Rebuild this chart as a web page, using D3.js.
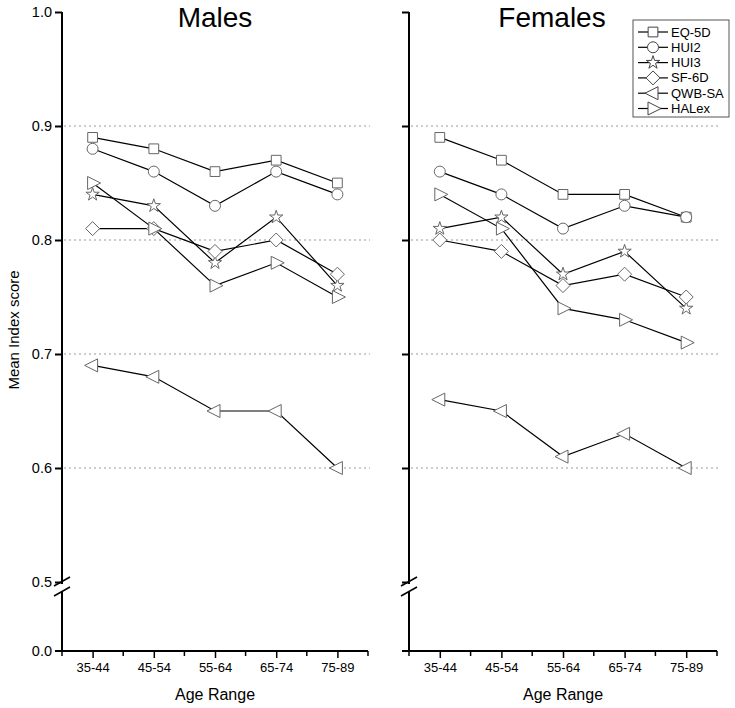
<!DOCTYPE html>
<html><head><meta charset="utf-8">
<script src="https://cdn.jsdelivr.net/npm/d3@7"></script>
<style>body{margin:0;background:#fff}svg{display:block}text{font-family:Arial,"Liberation Sans",sans-serif}</style>
</head><body><svg id="c" width="735" height="708"></svg>
<script>
const categories = ["35-44","45-54","55-64","65-74","75-89"];
const seriesNames = ["EQ-5D","HUI2","HUI3","SF-6D","QWB-SA","HALex"];
const malesEQ5D  = [0.89,0.88,0.86,0.87,0.85];
const malesHUI2  = [0.88,0.86,0.83,0.86,0.84];
const malesHUI3  = [0.84,0.83,0.78,0.82,0.76];
const malesSF6D  = [0.81,0.81,0.79,0.80,0.77];
const malesQWB   = [0.69,0.68,0.65,0.65,0.60];
const malesHALex = [0.85,0.81,0.76,0.78,0.75];
const femalesEQ5D  = [0.89,0.87,0.84,0.84,0.82];
const femalesHUI2  = [0.86,0.84,0.81,0.83,0.82];
const femalesHUI3  = [0.81,0.82,0.77,0.79,0.74];
const femalesSF6D  = [0.80,0.79,0.76,0.77,0.75];
const femalesQWB   = [0.66,0.65,0.61,0.63,0.60];
const femalesHALex = [0.84,0.81,0.74,0.73,0.71];
const yTicks = [0.5,0.6,0.7,0.8,0.9,1.0];
const gridTicks = [0.6,0.7,0.8,0.9];

const panels = [
  {title:"Males", x0:62, x1:368, titleX:215, labels:true,
   data:[malesEQ5D,malesHUI2,malesHUI3,malesSF6D,malesQWB,malesHALex]},
  {title:"Females", x0:409, x1:717, titleX:552, labels:false,
   data:[femalesEQ5D,femalesHUI2,femalesHUI3,femalesSF6D,femalesQWB,femalesHALex]}
];

const svg = d3.select("#c");
const y = d3.scaleLinear().domain([0.5,1.0]).range([582,12]);
const yZero = 651;

function markerPath(i){
  const p = d3.path();
  switch(i){
    case 0: return d3.symbol(d3.symbolSquare, 95)();
    case 1: return d3.symbol(d3.symbolCircle, 95)();
    case 2: return d3.symbol(d3.symbolStar, 55)();
    case 3: p.moveTo(0,-7);p.lineTo(7,0);p.lineTo(0,7);p.lineTo(-7,0);p.closePath();return p.toString();
    case 4: p.moveTo(-8,0);p.lineTo(5,-6.5);p.lineTo(5,6.5);p.closePath();return p.toString();
    case 5: p.moveTo(8,0);p.lineTo(-5,-6.5);p.lineTo(-5,6.5);p.closePath();return p.toString();
  }
}

panels.forEach(pn=>{
  const g = svg.append("g");
  const x = d3.scalePoint().domain(categories).range([pn.x0,pn.x1]).padding(0.5);
  const step = x.step();
  g.selectAll(".grid").data(gridTicks).join("line")
    .attr("x1",pn.x0+2).attr("x2",pn.x1+2)
    .attr("y1",d=>y(d)).attr("y2",d=>y(d))
    .attr("stroke","#999").attr("stroke-width",1).attr("stroke-dasharray","2,3");
  const yAx = d3.axisLeft(y).tickValues(yTicks).tickSize(7).tickFormat(pn.labels?d3.format(".1f"):"");
  const ya = g.append("g").attr("transform",`translate(${pn.x0},0)`).call(yAx);
  ya.select(".domain").remove();
  ya.selectAll(".tick line").attr("stroke","#000").attr("stroke-width",2);
  ya.selectAll(".tick text").attr("font-size",14.5).attr("fill","#000").attr("x",-10);
  g.append("line").attr("x1",pn.x0).attr("x2",pn.x0).attr("y1",y(1.0)).attr("y2",584).attr("stroke","#000").attr("stroke-width",2);
  g.append("line").attr("x1",pn.x0).attr("x2",pn.x0).attr("y1",592).attr("y2",yZero).attr("stroke","#000").attr("stroke-width",2);
  [582,592].forEach(by=>{
    g.append("line").attr("x1",pn.x0-8).attr("x2",pn.x0+8).attr("y1",by+4).attr("y2",by-5).attr("stroke","#000").attr("stroke-width",1.5);
  });
  g.append("line").attr("x1",pn.x0-7).attr("x2",pn.x0).attr("y1",yZero).attr("y2",yZero).attr("stroke","#000").attr("stroke-width",2);
  if(pn.labels){
    g.append("text").attr("x",pn.x0-10).attr("y",yZero).attr("dy","0.32em").attr("text-anchor","end").attr("font-size",14.5).text("0.0");
  }
  g.append("line").attr("x1",pn.x0).attr("x2",pn.x1).attr("y1",yZero).attr("y2",yZero).attr("stroke","#000").attr("stroke-width",2);
  const minor = d3.range(0,categories.length+1).map(i=>pn.x0+i*step);
  g.selectAll(".mt").data(minor).join("line").attr("x1",d=>d).attr("x2",d=>d).attr("y1",yZero).attr("y2",yZero+5).attr("stroke","#000").attr("stroke-width",1.5);
  const xAx = d3.axisBottom(x).tickSize(7).tickPadding(5);
  const xa = g.append("g").attr("transform",`translate(0,${yZero})`).call(xAx);
  xa.select(".domain").remove();
  xa.selectAll(".tick line").attr("stroke","#000").attr("stroke-width",1.5);
  xa.selectAll(".tick text").attr("font-size",13).attr("fill","#000");
  g.append("text").attr("x",(pn.x0+pn.x1)/2).attr("y",700).attr("text-anchor","middle").attr("font-size",16).text("Age Range");
  g.append("text").attr("x",pn.titleX).attr("y",27).attr("text-anchor","middle").attr("font-size",28).text(pn.title);
  const line = d3.line().x((d,i)=>x(categories[i])).y(d=>y(d));
  pn.data.forEach((vals,si)=>{
    g.append("path").attr("d",line(vals)).attr("fill","none").attr("stroke","#000").attr("stroke-width",1.2);
  });
  pn.data.forEach((vals,si)=>{
    g.selectAll(".m"+si).data(vals).join("path")
      .attr("transform",(d,i)=>`translate(${x(categories[i])},${y(d)})`)
      .attr("d",markerPath(si)).attr("fill","#fff").attr("stroke","#666").attr("stroke-width",1);
  });
});

svg.append("text").attr("transform","translate(19,330) rotate(-90)").attr("text-anchor","middle").attr("font-size",15).text("Mean Index score");

const lg = svg.append("g");
lg.append("rect").attr("x",633).attr("y",20).attr("width",96).attr("height",97).attr("fill","#fff").attr("stroke","#555").attr("stroke-width",1);
seriesNames.forEach((n,i)=>{
  const ly = 32 + i*15.3;
  lg.append("line").attr("x1",638).attr("x2",668).attr("y1",ly).attr("y2",ly).attr("stroke","#000").attr("stroke-width",1.2);
  lg.append("path").attr("transform",`translate(653,${ly})`).attr("d",markerPath(i)).attr("fill","#fff").attr("stroke","#444").attr("stroke-width",1);
  lg.append("text").attr("x",671).attr("y",ly).attr("dy","0.35em").attr("font-size",13).text(n);
});
</script></body></html>
